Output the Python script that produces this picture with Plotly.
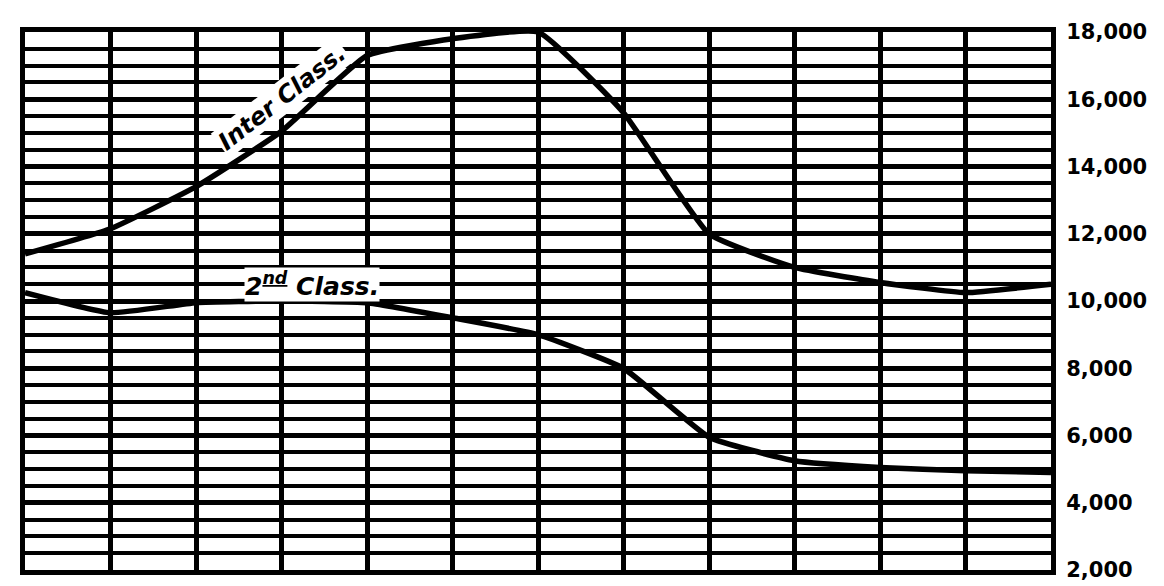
import plotly.graph_objects as go

# Data
points = list(range(13))  # 13 vertical rulings, 12 periods
inter_class = [11400, 12150, 13400, 15050, 17300, 17800, 18000, 15600, 12000, 11000, 10550, 10250, 10500]
second_class = [10250, 9650, 9950, 10000, 9950, 9500, 9000, 8000, 5950, 5250, 5050, 4950, 4900]
tick_vals = [2000, 4000, 6000, 8000, 10000, 12000, 14000, 16000, 18000]
tick_text = ["2,000", "4,000", "6,000", "8,000", "10,000", "12,000", "14,000", "16,000", "18,000"]

fig = go.Figure()
for series in (inter_class, second_class):
    fig.add_trace(go.Scatter(
        x=points, y=series, mode="lines",
        line=dict(color="black", width=5.5, shape="spline", smoothing=0.4),
        showlegend=False, hoverinfo="skip",
    ))

label_font = dict(family="DejaVu Sans", size=24, weight="bold", style="italic", color="black")
fig.update_layout(
    width=1164, height=586,
    margin=dict(l=14, r=121, t=23, b=18),
    paper_bgcolor="white", plot_bgcolor="white",
    font=dict(family="DejaVu Sans", color="black"),
    annotations=[
        dict(x=3.0, y=16050, xref="x", yref="y", text="Inter Class.",
             textangle=-38, showarrow=False, bgcolor="white", borderpad=1,
             font=label_font),
        dict(x=3.36, y=10500, xref="x", yref="y", text="2<sup><u>nd</u></sup> Class.",
             showarrow=False, bgcolor="white", borderpad=0,
             font=dict(label_font, size=25)),
    ],
)

fig.update_xaxes(
    range=[0, 12], dtick=1, tick0=0, showgrid=True, gridcolor="black", gridwidth=4.5,
    showticklabels=False, ticks="", zeroline=False,
    showline=True, mirror=True, linecolor="black", linewidth=5,
)
fig.update_yaxes(
    range=[2000, 18000], side="right", tickvals=tick_vals, ticktext=tick_text,
    showgrid=True, gridcolor="black", gridwidth=4.5,
    minor=dict(dtick=500, tick0=0, showgrid=True, gridcolor="black", gridwidth=3.8),
    ticks="", zeroline=False, ticklabelstandoff=6,
    tickfont=dict(family="DejaVu Sans", size=21, weight="bold", color="black"),
    showline=True, mirror=True, linecolor="black", linewidth=5,
)

fig.write_html("out.html")
